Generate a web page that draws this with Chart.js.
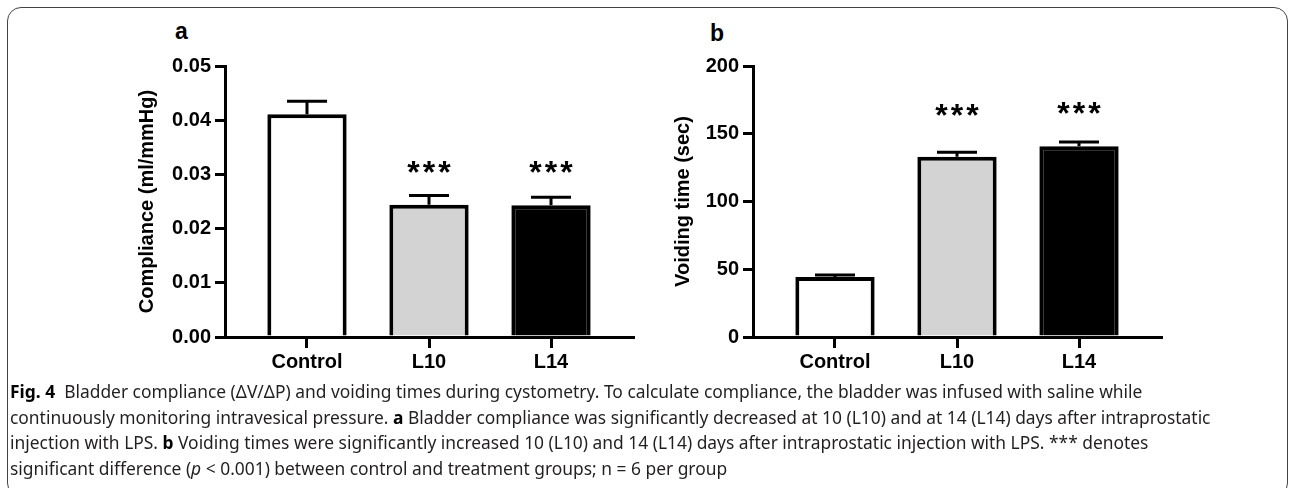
<!DOCTYPE html>
<html>
<head>
<meta charset="utf-8">
<script src="https://cdn.jsdelivr.net/npm/chart.js@4"></script>
<style>
  html, body { margin: 0; padding: 0; background: #fff; }
  body { width: 1293px; height: 488px; position: relative; overflow: hidden; }
  .card { position: absolute; left: 7px; top: 7px; width: 1281px; height: 490px;
          border: 1px solid #444; border-radius: 14px; box-sizing: border-box; }
  .panel { position: absolute; top: 50px; width: 520px; height: 330px; }
  .plabel { position: absolute; font: bold 23px "Liberation Sans", Arial, sans-serif; color: #000; }
  .caption { position: absolute; left: 10px; top: 379px; width: 1280px;
             font: 17.4px "Noto Sans", sans-serif; line-height: 25.7px; color: #231f20; white-space: nowrap; }
  .caption b { color: #000; }
</style>
</head>
<body>
<div class="card"></div>
<div class="plabel" style="left:175px; top:18px;">a</div>
<div class="plabel" style="left:710px; top:20px;">b</div>
<div class="panel" style="left:120px;"><canvas id="chartA"></canvas></div>
<div class="panel" style="left:648px;"><canvas id="chartB"></canvas></div>
<div class="caption" id="caption">
  <b>Fig. 4</b>&nbsp; Bladder compliance (ΔV/ΔP) and voiding times during cystometry. To calculate compliance, the bladder was infused with saline while<br>
  continuously monitoring intravesical pressure. <b>a</b> Bladder compliance was significantly decreased at 10 (L10) and at 14 (L14) days after intraprostatic<br>
  injection with LPS. <b>b</b> Voiding times were significantly increased 10 (L10) and 14 (L14) days after intraprostatic injection with LPS. *** denotes<br>
  significant difference (<i>p</i> &lt; 0.001) between control and treatment groups; n = 6 per group
</div>
<script>
const categories = ['Control', 'L10', 'L14'];
const barColors = ['#ffffff', '#d3d3d3', '#000000'];

// panel a: compliance (ml/mmHg)
const complianceMean = [0.0411, 0.0244, 0.0243];
const complianceErrTop = [0.0435, 0.0261, 0.0258];
const complianceStars = ['', '***', '***'];
const complianceStarY = [null, 0.0317, 0.0317];

// panel b: voiding time (sec)
const voidingMean = [44.3, 133, 140.7];
const voidingErrTop = [45.8, 136.3, 143.9];
const voidingStars = ['', '***', '***'];
const voidingStarY = [null, 169, 170.5];

const FONT = '"Liberation Sans", Arial, sans-serif';

// upper error bars + significance stars, positioned through the chart scales
const errorBarPlugin = {
  id: 'errorBars',
  afterDatasetsDraw(chart, args, opts) {
    const ctx = chart.ctx;
    const x = chart.scales.x, y = chart.scales.y;
    ctx.save();
    ctx.strokeStyle = '#000';
    ctx.lineWidth = 3;
    opts.mean.forEach((m, i) => {
      const px = x.getPixelForValue(i);
      const top = y.getPixelForValue(opts.errTop[i]);
      const base = y.getPixelForValue(m);
      ctx.beginPath();
      ctx.moveTo(px, base);
      ctx.lineTo(px, top);
      ctx.moveTo(px - 20, top);
      ctx.lineTo(px + 20, top);
      ctx.stroke();
      if (opts.stars[i]) {
        const size = 32;
        ctx.font = 'bold ' + size + 'px ' + FONT;
        ctx.letterSpacing = '3px';
        ctx.fillStyle = '#000';
        ctx.textAlign = 'center';
        ctx.textBaseline = 'alphabetic';
        ctx.fillText(opts.stars[i], px + 1.5, y.getPixelForValue(opts.starY[i]) + size * 0.55);
      }
    });
    ctx.restore();
  }
};

function makeChart(id, mean, errTop, stars, starY, yTitle, yMax, yStep, decimals, titlePad) {
  return new Chart(document.getElementById(id), {
    type: 'bar',
    data: {
      datasets: [{
        data: mean.map((v, i) => ({ x: i, y: v })),
        backgroundColor: barColors,
        borderColor: '#000',
        borderWidth: 4,
        borderSkipped: 'start',
        barPercentage: 0.65,
        categoryPercentage: 1
      }]
    },
    options: {
      responsive: true,
      maintainAspectRatio: false,
      animation: false,
      layout: { padding: { top: 15, right: 7, left: 0, bottom: 0 } },
      plugins: {
        legend: { display: false },
        tooltip: { enabled: false },
        errorBars: { mean, errTop, stars, starY }
      },
      scales: {
        x: {
          type: 'linear',
          min: -0.672,
          max: 2.672,
          offset: false,
          afterBuildTicks: s => { s.ticks = categories.map((c, i) => ({ value: i })); },
          afterFit: s => { s.height = 43; },
          ticks: {
            callback: v => categories[v],
            color: '#000',
            padding: 2,
            maxRotation: 0,
            font: { family: FONT, size: 20, weight: 'bold' }
          },
          grid: { offset: false, drawOnChartArea: false, drawTicks: true, tickLength: 11, lineWidth: 3, color: '#000' },
          border: { display: true, color: '#000', width: 3 }
        },
        y: {
          min: 0,
          max: yMax,
          afterFit: s => { s.width = 105; },
          ticks: {
            stepSize: yStep,
            callback: v => v.toFixed(decimals),
            color: '#000',
            padding: 4,
            font: { family: FONT, size: 20, weight: 'bold' }
          },
          grid: { drawOnChartArea: false, drawTicks: true, tickLength: 10, lineWidth: 3, color: '#000' },
          border: { display: true, color: '#000', width: 3 },
          title: {
            display: true,
            text: yTitle,
            color: '#000',
            padding: { top: titlePad, bottom: 0 },
            font: { family: FONT, size: 20, weight: 'bold' }
          }
        }
      }
    },
    plugins: [errorBarPlugin]
  });
}

makeChart('chartA', complianceMean, complianceErrTop, complianceStars, complianceStarY,
  'Compliance (ml/mmHg)', 0.05, 0.01, 2, 15);
makeChart('chartB', voidingMean, voidingErrTop, voidingStars, voidingStarY,
  'Voiding time (sec)', 200, 50, 0, 23);
</script>
</body>
</html>
